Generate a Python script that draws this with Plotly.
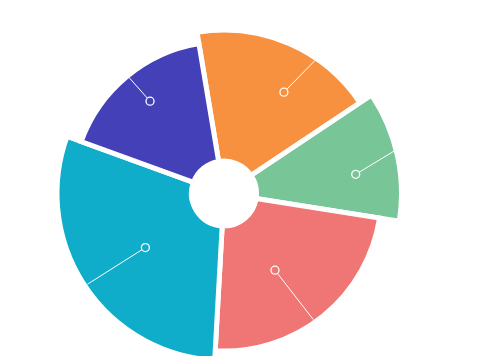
import plotly.graph_objects as go

# Sector data (angles in degrees, counter-clockwise from east; radii in chart units)
names = ["Orange", "Green", "Red", "Teal", "Purple"]
colors = ["#F7913F", "#78C597", "#F07676", "#10ADCA", "#4441B8"]
theta_mid = [66.6, 12.35, 308.9, 213.4, 129.75]
theta_width = [65.8, 42.7, 84.2, 106.8, 60.5]
radius = [163.5, 177.5, 157.5, 167.0, 152.0]
inner = 32.5

# marker dots and leader lines (radius, angle)
dot_r = [117.7, 133.1, 92.1, 95.4, 118.3]
dot_theta = [59.4, 8.3, 303.6, 214.5, 128.7]
edge_r = [161.6, 175.2, 154.4, 164.1, 149.5]
edge_theta = [55.6, 14.0, 305.3, 213.6, 129.3]

fig = go.Figure()
fig.add_trace(go.Barpolar(
    r=[r - inner for r in radius], base=inner,
    theta=theta_mid, width=theta_width,
    marker=dict(color=colors, line=dict(color="white", width=5)),
    hoverinfo="skip", showlegend=False,
))
for i in range(len(names)):
    fig.add_trace(go.Scatterpolar(
        r=[dot_r[i], edge_r[i]], theta=[dot_theta[i], edge_theta[i]],
        mode="lines", line=dict(color="white", width=1),
        showlegend=False, hoverinfo="skip",
    ))
fig.add_trace(go.Scatterpolar(
    r=dot_r, theta=dot_theta, mode="markers",
    marker=dict(size=8, color=colors, line=dict(color="white", width=1.3)),
    showlegend=False, hoverinfo="skip",
))

# page body adds an 8px offset; figure is taller than the window so the
# polar area is large enough for the longest sector
W, H = 499, 400
cx, cy = 216, 185.5
R = 180
fig.update_layout(
    width=W, height=H,
    margin=dict(l=0, r=0, t=0, b=0),
    paper_bgcolor="white", plot_bgcolor="white",
    polar=dict(
        domain=dict(x=[(cx - R) / W, (cx + R) / W],
                    y=[(H - cy - R) / H, (H - cy + R) / H]),
        bgcolor="rgba(0,0,0,0)",
        radialaxis=dict(range=[0, R], visible=False),
        angularaxis=dict(visible=False, rotation=0, direction="counterclockwise"),
    ),
)
fig.write_html("out.html")
